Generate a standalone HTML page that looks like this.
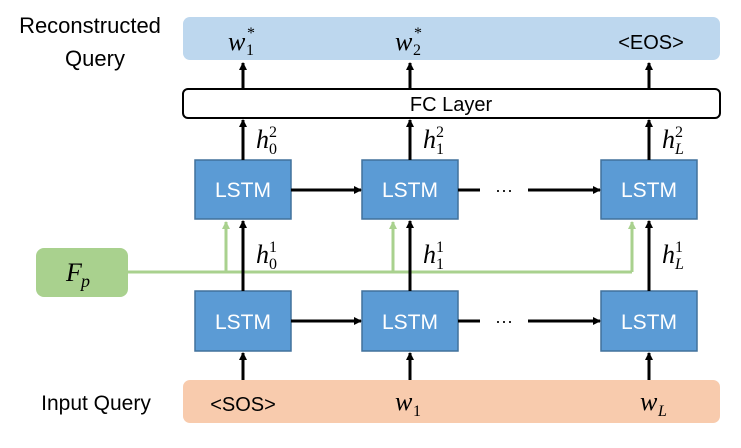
<!DOCTYPE html>
<html><head><meta charset="utf-8"><style>
body{margin:0;background:#fff;}
svg text{font-family:"Liberation Sans",sans-serif;}
svg .m text, svg text.m{font-family:"Liberation Serif",serif;font-style:italic;}
svg .n text{font-family:"Liberation Serif",serif;}
</style></head><body>
<svg width="741" height="443" viewBox="0 0 741 443" xmlns="http://www.w3.org/2000/svg">
<defs>
<marker id="a" markerWidth="8" markerHeight="8" refX="7" refY="4" orient="auto" markerUnits="userSpaceOnUse"><path d="M0,0 L8,4 L0,8 z" fill="#000"/></marker>
<marker id="g" markerWidth="8" markerHeight="8" refX="7" refY="4" orient="auto" markerUnits="userSpaceOnUse"><path d="M0,0 L8,4 L0,8 z" fill="#a9d18e"/></marker>
</defs>
<rect x="183" y="17" width="537" height="43" rx="7" fill="#bdd7ee"/>
<rect x="183" y="380" width="537" height="43" rx="7" fill="#f8cbad"/>
<rect x="183" y="89" width="537" height="29" rx="5" fill="#fff" stroke="#000" stroke-width="2"/>
<text x="451" y="111" font-size="20" text-anchor="middle">FC Layer</text>
<text x="90" y="33" font-size="22" text-anchor="middle">Reconstructed</text>
<text x="95" y="66" font-size="22" text-anchor="middle">Query</text>
<text x="96" y="410" font-size="21" text-anchor="middle">Input Query</text>
<rect x="36" y="248" width="92" height="49" rx="8" fill="#a9d18e"/>
<g class="m"><text x="66" y="281" font-size="26">F</text><text x="81" y="287" font-size="18">p</text></g>
<g fill="none" stroke="#a9d18e" stroke-width="3">
<path d="M128,272 H632"/>
<path d="M226,272 V222" marker-end="url(#g)"/>
<path d="M393,272 V222" marker-end="url(#g)"/>
<path d="M632,272 V222" marker-end="url(#g)"/>
</g>
<g fill="#5b9bd5" stroke="#41719c" stroke-width="1.5">
<rect x="195" y="160" width="96" height="59"/><rect x="362" y="160" width="96" height="59"/><rect x="601" y="160" width="96" height="59"/>
<rect x="195" y="291" width="96" height="60"/><rect x="362" y="291" width="96" height="60"/><rect x="601" y="291" width="96" height="60"/>
</g>
<g fill="#fff" font-size="21" text-anchor="middle">
<text x="243" y="197">LSTM</text><text x="410" y="197">LSTM</text><text x="649" y="197">LSTM</text>
<text x="243" y="329">LSTM</text><text x="410" y="329">LSTM</text><text x="649" y="329">LSTM</text>
</g>
<g stroke="#000" stroke-width="3" fill="none">
<path d="M243,89 V63" marker-end="url(#a)"/><path d="M410,89 V63" marker-end="url(#a)"/><path d="M649,89 V63" marker-end="url(#a)"/>
<path d="M243,160 V120" marker-end="url(#a)"/><path d="M410,160 V120" marker-end="url(#a)"/><path d="M649,160 V120" marker-end="url(#a)"/>
<path d="M243,291 V221" marker-end="url(#a)"/><path d="M410,291 V221" marker-end="url(#a)"/><path d="M649,291 V221" marker-end="url(#a)"/>
<path d="M243,380 V353" marker-end="url(#a)"/><path d="M410,380 V353" marker-end="url(#a)"/><path d="M649,380 V353" marker-end="url(#a)"/>
<path d="M291,190 H361" marker-end="url(#a)"/><path d="M458,190 H480"/><path d="M528,190 H600" marker-end="url(#a)"/>
<path d="M291,321 H361" marker-end="url(#a)"/><path d="M458,321 H480"/><path d="M528,321 H600" marker-end="url(#a)"/>
</g>
<text x="504" y="196" font-size="18" text-anchor="middle">···</text>
<text x="504" y="327" font-size="18" text-anchor="middle">···</text>
<g font-size="26" class="m">
<text x="228" y="50">w</text><text x="395" y="50">w</text>
<text x="256" y="148">h</text><text x="423" y="148">h</text><text x="662" y="148">h</text>
<text x="256" y="263">h</text><text x="423" y="263">h</text><text x="662" y="263">h</text>
<text x="395" y="410">w</text><text x="640" y="410">w</text>
</g>
<g font-size="16" class="n">
<text x="246" y="55">1</text><text x="247" y="38">*</text><text x="413" y="55">2</text><text x="414" y="38">*</text>
<text x="269" y="154">0</text><text x="269" y="137">2</text><text x="436" y="154">1</text><text x="436" y="137">2</text><text x="675" y="154" font-style="italic">L</text><text x="675" y="137">2</text>
<text x="269" y="269">0</text><text x="269" y="252">1</text><text x="436" y="269">1</text><text x="436" y="252">1</text><text x="675" y="269" font-style="italic">L</text><text x="675" y="252">1</text>
<text x="413" y="416">1</text><text x="658" y="416" font-style="italic">L</text>
</g>
<text x="651" y="49" font-size="20" text-anchor="middle">&lt;EOS&gt;</text>
<text x="243" y="411" font-size="20" text-anchor="middle">&lt;SOS&gt;</text>
</svg>
</body></html>
